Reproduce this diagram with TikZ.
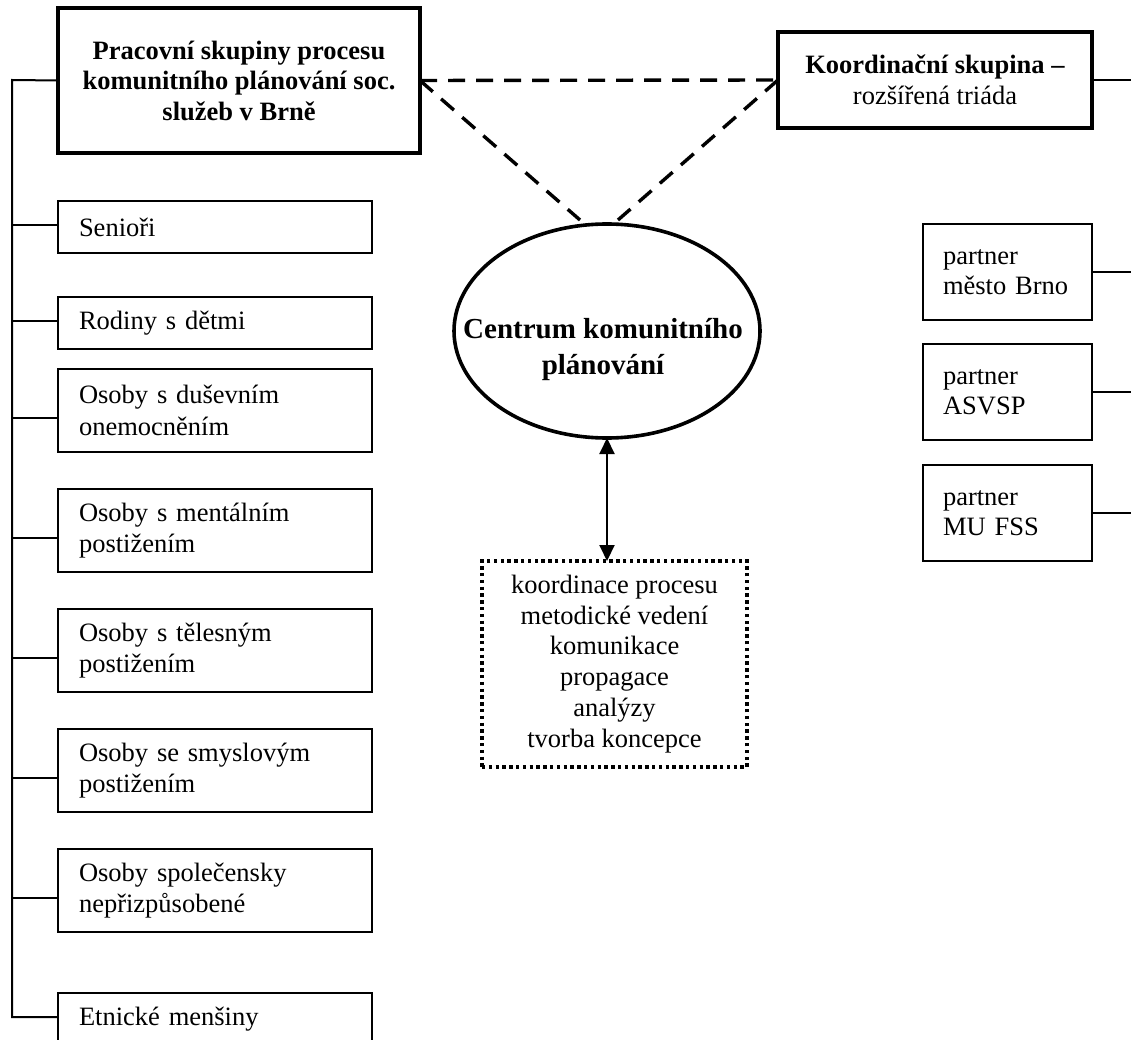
\documentclass[tikz,border=0pt]{standalone}
\usepackage{fontspec}
\setmainfont{Liberation Serif}
\usetikzlibrary{shapes.geometric,arrows.meta}
\newcommand\dgfs{\fontsize{26.5}{31.5}\selectfont}
\begin{document}
\begin{tikzpicture}[x=1pt,y=-1pt,
  every node/.style={font=\dgfs, outer sep=0pt},
  thinline/.style={line width=2pt},
  grp/.style={draw, line width=2pt, anchor=north west, inner xsep=21pt, inner ysep=0pt, text width=272pt, align=left},
  grp1/.style={grp, minimum height=52pt},
  grp2/.style={grp, minimum height=83pt},
  headbox/.style={draw, line width=3.6pt, anchor=north west, inner sep=0pt, align=center},
  pbox/.style={draw, line width=2pt, anchor=north west, inner xsep=20pt, inner ysep=0pt, text width=129pt, minimum height=96pt, align=left, font=\fontsize{26.5}{30}\selectfont},
  dashline/.style={line width=3.4pt, dash pattern=on 17pt off 11pt},
  dotbox/.style={draw, line width=3.2pt, dash pattern=on 3.4pt off 3.4pt, anchor=north west, inner sep=0pt, align=center, font=\fontsize{26.5}{30.8}\selectfont},
  dblarrow/.style={line width=2pt, {Triangle[length=16pt,width=15pt]}-{Triangle[length=16pt,width=15pt]}}
]
\clip (0,0) rectangle (1131,1040);
\fill[white] (0,0) rectangle (1131,1040);

% main group box
\node[headbox, minimum width=362pt, minimum height=145pt, font=\fontsize{26.5}{30.5}\selectfont\bfseries] (main) at (58,8)
  {Pracovní skupiny procesu\\komunitního plánování soc.\\služeb v Brně};

% coordination box
\node[headbox, minimum width=314pt, minimum height=96pt, font=\fontsize{26.5}{31}\selectfont] (koord) at (778,32)
  {\textbf{Koordinační skupina –}\\rozšířená triáda};

% working groups
\node[grp1] (sen) at (58,201) {Senioři};
\node[grp1] (rod) at (58,297) {Rodiny s dětmi};
\node[grp2] (dus) at (58,369) {Osoby s duševním\\onemocněním};
\node[grp2] (men) at (58,489) {Osoby s mentálním\\postižením};
\node[grp2] (tel) at (58,609) {Osoby s tělesným\\postižením};
\node[grp2] (smy) at (58,729) {Osoby se smyslovým\\postižením};
\node[grp2] (spo) at (58,849) {Osoby společensky\\nepřizpůsobené};
\node[grp1] (etn) at (58,993) {Etnické menšiny};

% centre
\node[draw, ellipse, line width=3.6pt, minimum width=306pt, minimum height=214pt, inner sep=0pt] (cen) at (607,331) {};
\node[font=\fontsize{29}{36}\selectfont\bfseries, align=center] (centxt) at (603,350) {Centrum komunitního\\plánování};

% dotted task box
\node[dotbox, minimum width=265pt, minimum height=206pt] (dot) at (482,561)
  {koordinace procesu\\metodické vedení\\komunikace\\propagace\\analýzy\\tvorba koncepce};

% partners
\node[pbox] (p1) at (923,224) {partner\\město Brno};
\node[pbox] (p2) at (923,344) {partner\\ASVSP};
\node[pbox] (p3) at (923,465) {partner\\MU FSS};

% coordinates
\coordinate (ttop) at (12,80);
\coordinate (tbot) at (12,1017);
\coordinate (kr) at (1131,80);
\coordinate (dl) at (580,220);
\coordinate (dr) at (618,220);

% trunk on the left
\draw[thinline] (main.west) -- (ttop) -- (tbot) -- ([yshift=2pt]etn.west);
\draw[thinline] ([yshift=2pt]sen.west) -- ([yshift=2pt]sen.west -| ttop);
\draw[thinline] ([yshift=2pt]rod.west) -- ([yshift=2pt]rod.west -| ttop);
\draw[thinline] ([yshift=-7pt]dus.west) -- ([yshift=-7pt]dus.west -| ttop);
\draw[thinline] ([yshift=-7pt]men.west) -- ([yshift=-7pt]men.west -| ttop);
\draw[thinline] ([yshift=-7pt]tel.west) -- ([yshift=-7pt]tel.west -| ttop);
\draw[thinline] ([yshift=-7pt]smy.west) -- ([yshift=-7pt]smy.west -| ttop);
\draw[thinline] ([yshift=-7pt]spo.west) -- ([yshift=-7pt]spo.west -| ttop);

% right-hand lines
\draw[thinline] (koord.east) -- (kr);
\draw[thinline] (p1.east) -- (p1.east -| kr);
\draw[thinline] (p2.east) -- (p2.east -| kr);
\draw[thinline] (p3.east) -- (p3.east -| kr);

% dashed triangle
\draw[dashline] (main.east) -- (koord.west);
\draw[dashline] (main.east) -- (dl);
\draw[dashline] (koord.west) -- (dr);

% double arrow
\draw[dblarrow] (cen.south) -- (cen.south |- dot.north);
\end{tikzpicture}
\end{document}
